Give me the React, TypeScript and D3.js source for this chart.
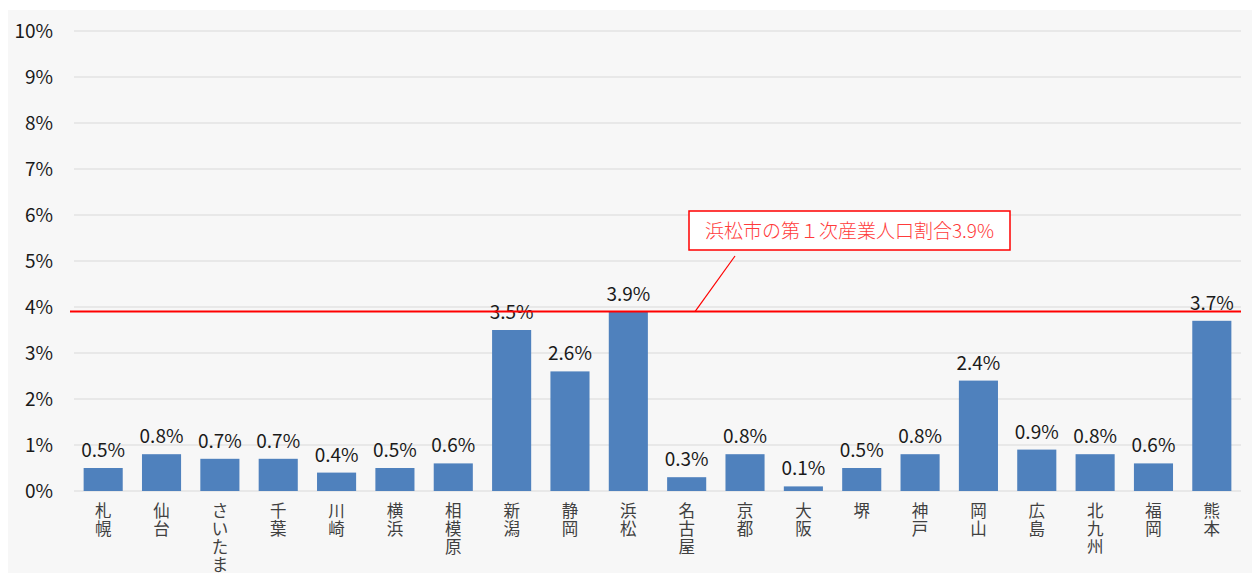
import React, { useEffect, useRef } from 'react';
import * as d3 from 'd3';

// 政令市の第1次産業人口割合
const cities = [
  '札幌', '仙台', 'さいたま', '千葉', '川崎', '横浜', '相模原', '新潟', '静岡', '浜松',
  '名古屋', '京都', '大阪', '堺', '神戸', '岡山', '広島', '北九州', '福岡', '熊本',
];
const shares = [0.5, 0.8, 0.7, 0.7, 0.4, 0.5, 0.6, 3.5, 2.6, 3.9, 0.3, 0.8, 0.1, 0.5, 0.8, 2.4, 0.9, 0.8, 0.6, 3.7];
const yTicks = [0, 1, 2, 3, 4, 5, 6, 7, 8, 9, 10];
const hamamatsuShare = 3.9;
const noteText = '浜松市の第１次産業人口割合3.9%';

const W = 1260;
const H = 581;
const FONT = '"Noto Sans CJK JP", "Noto Sans", sans-serif';

export default function App() {
  const ref = useRef<SVGSVGElement>(null);

  useEffect(() => {
    if (!ref.current) return;
    const svg = d3.select(ref.current);
    svg.selectAll('*').remove();

    const left = 74, right = 1241, top = 31, bottom = 491;

    const x = d3.scaleBand<string>()
      .domain(cities)
      .range([left, right])
      .paddingInner(0.33)
      .paddingOuter(0.165);

    const y = d3.scaleLinear().domain([0, 10]).range([bottom, top]);

    // background panel
    svg.append('rect')
      .attr('x', 4).attr('y', 10)
      .attr('width', W - 4).attr('height', 570)
      .attr('fill', '#f7f7f7');

    // gridlines
    svg.append('g')
      .selectAll('line')
      .data(yTicks)
      .enter()
      .append('line')
      .attr('x1', left).attr('x2', right)
      .attr('y1', d => y(d)).attr('y2', d => y(d))
      .attr('stroke', '#d9d9d9')
      .attr('stroke-width', 1);

    // y axis labels
    svg.append('g')
      .selectAll('text')
      .data(yTicks)
      .enter()
      .append('text')
      .attr('x', 53)
      .attr('y', d => y(d) + 7)
      .attr('text-anchor', 'end')
      .attr('font-size', 19)
      .attr('font-family', FONT)
      .attr('fill', '#1a1a1a')
      .text(d => `${d}%`);

    // bars
    svg.append('g')
      .selectAll('rect')
      .data(shares)
      .enter()
      .append('rect')
      .attr('x', (d, i) => x(cities[i])!)
      .attr('y', d => y(d))
      .attr('width', x.bandwidth())
      .attr('height', d => y(0) - y(d))
      .attr('fill', '#4f81bd');

    // value labels
    svg.append('g')
      .selectAll('text')
      .data(shares)
      .enter()
      .append('text')
      .attr('x', (d, i) => x(cities[i])! + x.bandwidth() / 2)
      .attr('y', d => y(d) - 11)
      .attr('text-anchor', 'middle')
      .attr('font-size', 19)
      .attr('font-family', FONT)
      .attr('fill', '#1a1a1a')
      .text(d => `${d.toFixed(1)}%`);

    // category labels, one character per line
    const cat = svg.append('g');
    cities.forEach(c => {
      const t = cat.append('text')
        .attr('x', x(c)! + x.bandwidth() / 2)
        .attr('y', 517)
        .attr('text-anchor', 'middle')
        .attr('font-size', 16.5)
        .attr('font-family', FONT)
        .attr('fill', '#404040');
      Array.from(c).forEach((ch, j) => {
        t.append('tspan')
          .attr('x', x(c)! + x.bandwidth() / 2)
          .attr('dy', j === 0 ? 0 : 18)
          .text(ch);
      });
    });

    // Hamamatsu reference line
    svg.append('line')
      .attr('x1', 70).attr('x2', right)
      .attr('y1', y(hamamatsuShare)).attr('y2', y(hamamatsuShare))
      .attr('stroke', '#ff0000')
      .attr('stroke-width', 2);

    // callout
    svg.append('line')
      .attr('x1', 735).attr('y1', 256)
      .attr('x2', 695).attr('y2', y(hamamatsuShare))
      .attr('stroke', '#ff0000')
      .attr('stroke-width', 1.2);

    svg.append('rect')
      .attr('x', 689).attr('y', 211)
      .attr('width', 321).attr('height', 39)
      .attr('fill', '#ffffff')
      .attr('stroke', '#ff0000')
      .attr('stroke-width', 1.5);

    svg.append('text')
      .attr('x', 849.5)
      .attr('y', 238)
      .attr('text-anchor', 'middle')
      .attr('font-size', 19)
      .attr('font-weight', 300)
      .attr('font-family', FONT)
      .attr('fill', '#ff3b3b')
      .text(noteText);
  }, []);

  return (
    <div style={{ margin: -8 }}>
      <svg ref={ref} width={W} height={H} style={{ display: 'block', background: '#ffffff' }} />
    </div>
  );
}
